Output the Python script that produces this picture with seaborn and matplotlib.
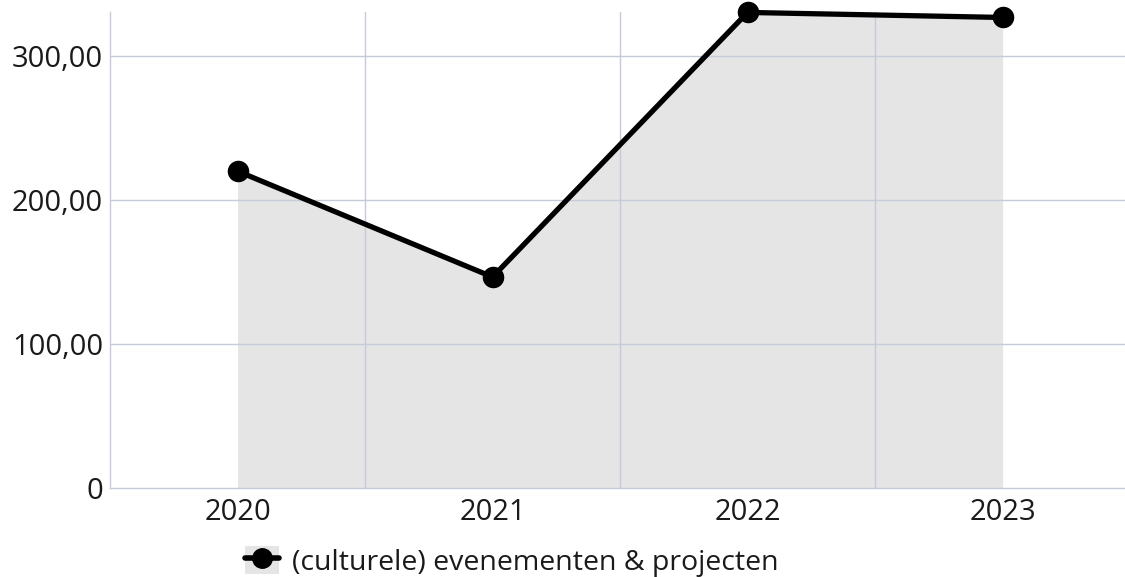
import matplotlib
matplotlib.use("Agg")
import matplotlib.pyplot as plt
import seaborn as sns
import pandas as pd
from matplotlib.lines import Line2D
from matplotlib.patches import Patch
from matplotlib.ticker import FuncFormatter

years = ["2020", "2021", "2022", "2023"]
values = [220.0, 146.5, 330.2, 326.7]
series_name = "(culturele) evenementen & projecten"
y_ticks = [0, 100, 200, 300]

sns.set_theme(style="white")
plt.rcParams['font.family'] = ['Open Sans', 'DejaVu Sans']

df = pd.DataFrame({"year": years, "value": values})
df["pos"] = range(len(years))

fig = plt.figure(figsize=(11.25, 5.77), dpi=100)
ax = fig.add_axes([110/1125, 89/577, 1 - 110/1125, (488-12)/577])

ax.fill_between(df["pos"], df["value"], 0, color="#e5e5e5", zorder=1, linewidth=0)
sns.lineplot(data=df, x="pos", y="value", ax=ax, color="black", linewidth=3.8,
             marker="o", markersize=15.5, markeredgewidth=0, zorder=5, clip_on=False)

ax.set_xlim(-0.5, 3.48)
ax.set_ylim(0, 330.5)
ax.set_xticks(df["pos"])
ax.set_xticklabels(years)
ax.set_yticks(y_ticks)

def fmt(v, p):
    if v == 0:
        return "0"
    return f"{v:.2f}".replace(".", ",")
ax.yaxis.set_major_formatter(FuncFormatter(fmt))

grid_c = "#c5cbd9"
for yv in y_ticks[1:]:
    ax.axhline(yv, color=grid_c, linewidth=1, zorder=2)
for xv in [0.5, 1.5, 2.5]:
    ax.axvline(xv, color=grid_c, linewidth=1, zorder=2)

for s in ["top", "right"]:
    ax.spines[s].set_visible(False)
ax.spines["left"].set_color(grid_c)
ax.spines["bottom"].set_color(grid_c)
ax.spines["left"].set_linewidth(1)
ax.spines["bottom"].set_linewidth(1)

ax.tick_params(axis="both", length=0, labelsize=21, colors="#1a1a1a")
ax.tick_params(axis="x", pad=7)
ax.tick_params(axis="y", pad=5)
ax.set_xlabel("")
ax.set_ylabel("")

handle = (Patch(facecolor="#e5e5e5", edgecolor="none"),
          Line2D([], [], color="black", linewidth=4, marker="o", markersize=14))
fig.legend([handle], [series_name], loc="center", bbox_to_anchor=(0.455, 0.027),
           frameon=False, fontsize=20.5, handlelength=1.2, handleheight=1.1,
           handletextpad=0.45, labelcolor="#1a1a1a", borderpad=0, borderaxespad=0)

fig.savefig("out.png", dpi=100)
